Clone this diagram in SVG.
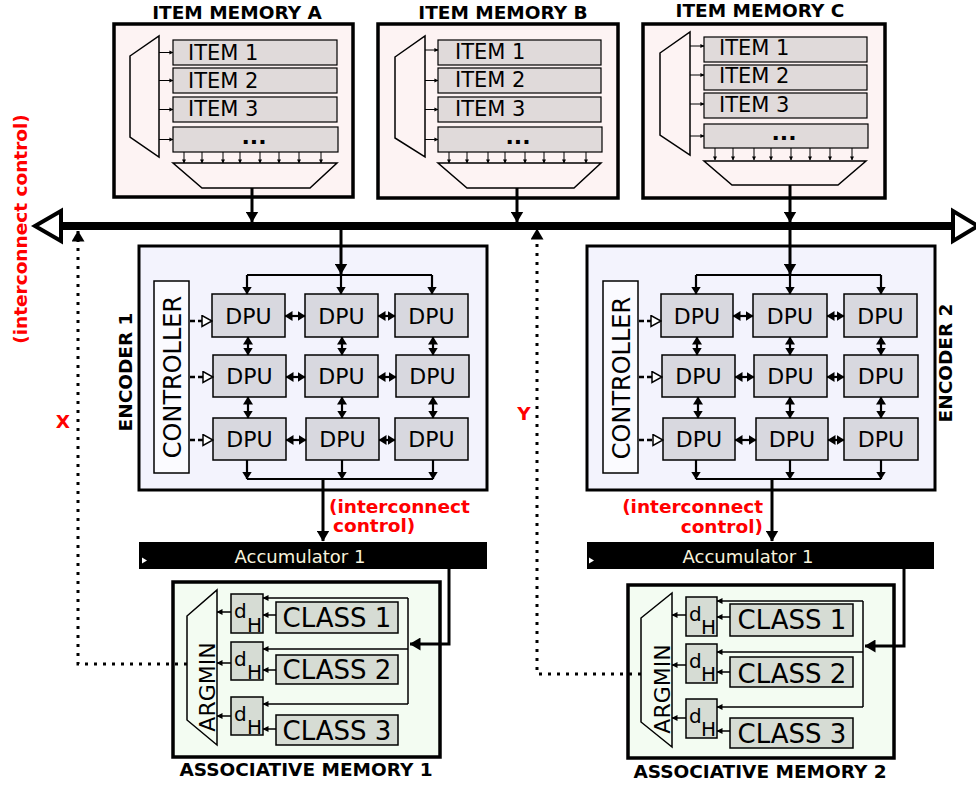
<svg xmlns="http://www.w3.org/2000/svg" width="976" height="786" viewBox="0 0 976 786">
  <style>
    text { font-family: "DejaVu Sans", "Liberation Sans", sans-serif; fill: #000; }
    .title { font-size: 18.5px; font-weight: bold; text-anchor: middle; }
    .red { fill: #ff0000; font-weight: bold; font-size: 18.5px; }
    .imbox { fill: #fdf3f3; stroke: #000; stroke-width: 3.5; }
    .item { fill: #e0dada; stroke: #000; stroke-width: 1.2; }
    .itext { font-size: 21px; }
    .dots { font-size: 22px; font-weight: bold; text-anchor: middle; }
    .mux { fill: none; stroke: #000; stroke-width: 1.5; stroke-linejoin: miter; }
    .enc { fill: #f3f3fd; stroke: #000; stroke-width: 3; }
    .ctrl { fill: #fbfbff; stroke: #000; stroke-width: 1.5; }
    .dpu { fill: #d8d8df; stroke: #000; stroke-width: 1.5; }
    .dtext { font-size: 22px; text-anchor: middle; }
    .am { fill: #f3fcf2; stroke: #000; stroke-width: 3.5; }
    .cell { fill: #d6dcd4; stroke: #000; stroke-width: 1.5; }
    .ctext { font-size: 26px; text-anchor: middle; }
    .dh { font-size: 20px; }
    .acc { fill: #000; }
    .acctext { font-size: 18px; fill: #f8f3dc; text-anchor: middle; }
    .thin { fill: none; stroke: #000; stroke-width: 1; }
    .w15 { fill: none; stroke: #000; stroke-width: 1.5; }
    .w2 { fill: none; stroke: #000; stroke-width: 2.2; }
    .w3 { fill: none; stroke: #000; stroke-width: 3; }
    .bus { fill: none; stroke: #000; stroke-width: 8; }
    .busend { fill: #fff; stroke: #000; stroke-width: 4; stroke-linejoin: miter; }
    .dash { fill: none; stroke: #000; stroke-width: 2.5; stroke-dasharray: 5 3; }
    .dotted { fill: none; stroke: #000; stroke-width: 3; stroke-dasharray: 3 6; }
    .t { marker-end: url(#aht); }
    .s { marker-end: url(#ahs); }
    .m { marker-end: url(#ahm); }
    .mm { marker-start: url(#ahm); marker-end: url(#ahm); }
    .o { marker-end: url(#aho); }
    .b { marker-end: url(#ah); }
  </style>
  <defs>
    <marker id="ah" viewBox="0 0 11 13" refX="10.5" refY="6.5" markerWidth="11" markerHeight="13" markerUnits="userSpaceOnUse" orient="auto-start-reverse">
      <path d="M0,0 L11,6.5 L0,13 z" fill="#000"/>
    </marker>
    <marker id="ahm" viewBox="0 0 8 10" refX="7.5" refY="5" markerWidth="8" markerHeight="10" markerUnits="userSpaceOnUse" orient="auto-start-reverse">
      <path d="M0,0 L8,5 L0,10 z" fill="#000"/>
    </marker>
    <marker id="ahs" viewBox="0 0 6 6" refX="5.5" refY="3" markerWidth="6" markerHeight="6" markerUnits="userSpaceOnUse" orient="auto-start-reverse">
      <path d="M0,0 L6,3 L0,6 z" fill="#000"/>
    </marker>
    <marker id="aht" viewBox="0 0 5 5" refX="4.5" refY="2.5" markerWidth="4" markerHeight="4.5" markerUnits="userSpaceOnUse" orient="auto">
      <path d="M0,0 L5,2.5 L0,5 z" fill="#000"/>
    </marker>
    <marker id="aho" viewBox="-1 -1 12 13" refX="10" refY="5.5" markerWidth="12" markerHeight="13" markerUnits="userSpaceOnUse" orient="auto">
      <path d="M0,0 L10,5.5 L0,11 z" fill="#fff" stroke="#000" stroke-width="1.5"/>
    </marker>
  </defs>

  <!-- ITEM MEMORY A -->
  <g id="item-memory-a">
    <text class="title" x="237" y="19">ITEM MEMORY A</text>
    <rect class="imbox" x="114" y="24" width="239" height="173"/>
    <polygon class="mux" points="130,56 159,36 159,157 130,137"/>
    <rect class="item" x="173" y="40" width="164" height="25"/>
    <rect class="item" x="173" y="68" width="164" height="25"/>
    <rect class="item" x="173" y="97" width="164" height="25"/>
    <rect class="item" x="173" y="127" width="165" height="25"/>
    <text class="itext" x="188" y="60">ITEM 1</text>
    <text class="itext" x="188" y="88">ITEM 2</text>
    <text class="itext" x="188" y="116">ITEM 3</text>
    <text class="dots" x="254" y="144">...</text>
    <g class="thin">
      <path class="t" d="M159,52.5 H173"/><path class="t" d="M159,80.5 H173"/>
      <path class="t" d="M159,109.5 H173"/><path class="t" d="M159,139.5 H173"/>
      <path class="t" d="M184,152 V163"/><path class="t" d="M202,152 V163"/>
      <path class="t" d="M223,152 V163"/><path class="t" d="M240,152 V163"/>
      <path class="t" d="M260,152 V163"/><path class="t" d="M279,152 V163"/>
      <path class="t" d="M299,152 V163"/><path class="t" d="M321,152 V163"/>
    </g>
    <polygon class="mux" points="173,163 337,163 310,188 202,188"/>
  </g>

  <!-- ITEM MEMORY B -->
  <g id="item-memory-b">
    <text class="title" x="503" y="19">ITEM MEMORY B</text>
    <rect class="imbox" x="378" y="24" width="240" height="174"/>
    <g transform="translate(265,0)">
      <polygon class="mux" points="130,57 160,36 160,157 130,138"/>
      <rect class="item" x="173" y="40" width="163" height="25"/>
      <rect class="item" x="173" y="68" width="163" height="25"/>
      <rect class="item" x="173" y="97" width="163" height="25"/>
      <rect class="item" x="173" y="127" width="164" height="25"/>
      <text class="itext" x="190" y="59">ITEM 1</text>
      <text class="itext" x="190" y="87">ITEM 2</text>
      <text class="itext" x="190" y="116">ITEM 3</text>
      <text class="dots" x="253" y="144">...</text>
      <g class="thin">
        <path class="t" d="M160,50 H173"/><path class="t" d="M160,80.5 H173"/>
        <path class="t" d="M160,109.5 H173"/><path class="t" d="M160,139.5 H173"/>
        <path class="t" d="M184,152 V163"/><path class="t" d="M202,152 V163"/>
        <path class="t" d="M223,152 V163"/><path class="t" d="M240,152 V163"/>
        <path class="t" d="M260,152 V163"/><path class="t" d="M279,152 V163"/>
        <path class="t" d="M299,152 V163"/><path class="t" d="M321,152 V163"/>
      </g>
      <polygon class="mux" points="173,163 336,163 309,188 202,188"/>
    </g>
  </g>

  <!-- ITEM MEMORY C -->
  <g id="item-memory-c">
    <text class="title" x="760" y="17">ITEM MEMORY C</text>
    <rect class="imbox" x="643" y="24" width="242" height="174"/>
    <g transform="translate(531,-3)">
      <polygon class="mux" points="129,56 159,35 159,158 129,138"/>
      <rect class="item" x="173" y="40" width="163" height="25"/>
      <rect class="item" x="173" y="68" width="163" height="25"/>
      <rect class="item" x="173" y="96" width="163" height="25"/>
      <rect class="item" x="173" y="127" width="164" height="24"/>
      <text class="itext" x="188" y="58">ITEM 1</text>
      <text class="itext" x="188" y="86">ITEM 2</text>
      <text class="itext" x="188" y="115">ITEM 3</text>
      <text class="dots" x="253" y="143">...</text>
      <g class="thin">
        <path class="t" d="M159,49 H173"/><path class="t" d="M159,78 H173"/>
        <path class="t" d="M159,107 H173"/><path class="t" d="M159,139 H173"/>
        <path class="t" d="M184,151 V163"/><path class="t" d="M202,151 V163"/>
        <path class="t" d="M223,151 V163"/><path class="t" d="M240,151 V163"/>
        <path class="t" d="M260,151 V163"/><path class="t" d="M279,151 V163"/>
        <path class="t" d="M299,151 V163"/><path class="t" d="M321,151 V163"/>
      </g>
      <polygon class="mux" points="173,164 335,164 307,188 201,188"/>
    </g>
  </g>

  <!-- ENCODER 1 -->
  <g id="encoder-1">
    <rect class="enc" x="139" y="246" width="348" height="244"/>
    <rect class="ctrl" x="154" y="281" width="35" height="192"/>
    <text transform="translate(181,377) rotate(-90)" style="font-size:24px;text-anchor:middle">CONTROLLER</text>
    <rect class="dpu" x="212" y="294" width="73" height="43"/>
    <rect class="dpu" x="305" y="294" width="73" height="43"/>
    <rect class="dpu" x="395" y="294" width="73" height="43"/>
    <rect class="dpu" x="213" y="355" width="73" height="42"/>
    <rect class="dpu" x="305" y="355" width="73" height="42"/>
    <rect class="dpu" x="396" y="355" width="73" height="42"/>
    <rect class="dpu" x="213" y="418" width="73" height="42"/>
    <rect class="dpu" x="306" y="418" width="73" height="42"/>
    <rect class="dpu" x="395" y="418" width="73" height="42"/>
    <text class="dtext" x="248.5" y="323.5">DPU</text>
    <text class="dtext" x="341.5" y="323.5">DPU</text>
    <text class="dtext" x="431.5" y="323.5">DPU</text>
    <text class="dtext" x="249.5" y="384">DPU</text>
    <text class="dtext" x="341.5" y="384">DPU</text>
    <text class="dtext" x="432.5" y="384">DPU</text>
    <text class="dtext" x="249.5" y="447">DPU</text>
    <text class="dtext" x="342.5" y="447">DPU</text>
    <text class="dtext" x="431.5" y="447">DPU</text>
    <text class="title" transform="translate(132,372) rotate(-90)">ENCODER 1</text>
  </g>

  <!-- ENCODER 2 -->
  <g id="encoder-2">
    <rect class="enc" x="587" y="246" width="348" height="244"/>
    <g transform="translate(449,0)">
      <rect class="ctrl" x="154" y="281" width="35" height="192"/>
      <text transform="translate(181,378) rotate(-90)" style="font-size:24px;text-anchor:middle">CONTROLLER</text>
      <rect class="dpu" x="212" y="294" width="72" height="43"/>
      <rect class="dpu" x="304" y="294" width="74" height="43"/>
      <rect class="dpu" x="395" y="294" width="73" height="43"/>
      <rect class="dpu" x="213" y="355" width="73" height="42"/>
      <rect class="dpu" x="305" y="355" width="73" height="42"/>
      <rect class="dpu" x="395" y="355" width="74" height="42"/>
      <rect class="dpu" x="214" y="418" width="72" height="42"/>
      <rect class="dpu" x="307" y="418" width="72" height="42"/>
      <rect class="dpu" x="395" y="418" width="74" height="42"/>
      <text class="dtext" x="248" y="323.5">DPU</text>
      <text class="dtext" x="341" y="323.5">DPU</text>
      <text class="dtext" x="431.5" y="323.5">DPU</text>
      <text class="dtext" x="249.5" y="384">DPU</text>
      <text class="dtext" x="341.5" y="384">DPU</text>
      <text class="dtext" x="432" y="384">DPU</text>
      <text class="dtext" x="250" y="447">DPU</text>
      <text class="dtext" x="343" y="447">DPU</text>
      <text class="dtext" x="432" y="447">DPU</text>
    </g>
    <text class="title" transform="translate(952,363) rotate(-90)">ENCODER 2</text>
  </g>

  <!-- Accumulators -->
  <g id="accumulator-1">
    <rect class="acc" x="139" y="542" width="348" height="27"/>
    <polygon points="142,557.5 147,560.5 142,563.5" fill="#fff"/>
    <text class="acctext" x="300" y="563">Accumulator 1</text>
  </g>
  <g id="accumulator-2">
    <rect class="acc" x="587" y="542" width="347" height="27"/>
    <polygon points="589,557.5 594,560.5 589,563.5" fill="#fff"/>
    <text class="acctext" x="748" y="563">Accumulator 1</text>
  </g>

  <!-- ASSOCIATIVE MEMORY 1 -->
  <g id="associative-memory-1">
    <rect class="am" x="173" y="582" width="267" height="175"/>
    <polygon class="mux" points="187,616 217,590 217,745 187,720"/>
    <text transform="translate(215,687) rotate(-90)" style="font-size:22px;text-anchor:middle">ARGMIN</text>
    <rect class="cell" x="231" y="594" width="32" height="39"/>
    <rect class="cell" x="231" y="642" width="32" height="38"/>
    <rect class="cell" x="231" y="697" width="32" height="38"/>
    <text class="dh" x="234" y="618">d</text><text class="dh" x="247" y="632">H</text>
    <text class="dh" x="234" y="666">d</text><text class="dh" x="247" y="679">H</text>
    <text class="dh" x="234" y="721">d</text><text class="dh" x="247" y="734">H</text>
    <rect class="cell" x="276" y="602" width="122" height="31"/>
    <rect class="cell" x="276" y="655" width="122" height="29"/>
    <rect class="cell" x="276" y="715" width="122" height="30"/>
    <text class="ctext" x="337" y="627">CLASS 1</text>
    <text class="ctext" x="337" y="679">CLASS 2</text>
    <text class="ctext" x="337" y="740">CLASS 3</text>
    <text class="title" x="306" y="776">ASSOCIATIVE MEMORY 1</text>
  </g>

  <!-- ASSOCIATIVE MEMORY 2 -->
  <g id="associative-memory-2">
    <rect class="am" x="628" y="585" width="266" height="173"/>
    <polygon class="mux" points="641,618 672,593 672,747 641,722"/>
    <text transform="translate(670,689) rotate(-90)" style="font-size:22px;text-anchor:middle">ARGMIN</text>
    <rect class="cell" x="686" y="597" width="31" height="39"/>
    <rect class="cell" x="686" y="644" width="31" height="39"/>
    <rect class="cell" x="686" y="699" width="31" height="39"/>
    <text class="dh" x="689" y="621">d</text><text class="dh" x="701" y="634">H</text>
    <text class="dh" x="689" y="668">d</text><text class="dh" x="701" y="681">H</text>
    <text class="dh" x="689" y="723">d</text><text class="dh" x="701" y="736">H</text>
    <rect class="cell" x="730" y="604" width="123" height="32"/>
    <rect class="cell" x="730" y="657" width="123" height="30"/>
    <rect class="cell" x="730" y="718" width="123" height="30"/>
    <text class="ctext" x="792" y="629">CLASS 1</text>
    <text class="ctext" x="792" y="683">CLASS 2</text>
    <text class="ctext" x="792" y="743">CLASS 3</text>
    <text class="title" x="760" y="778">ASSOCIATIVE MEMORY 2</text>
  </g>

  <!-- Interconnect bus -->
  <g id="bus">
    <path class="bus" d="M61,226 H953"/>
    <polygon class="busend" points="35,226 61,211 61,241"/>
    <polygon class="busend" points="953,211 953,241 978,226"/>
    <text class="red" transform="translate(27,229) rotate(-90)" text-anchor="middle">(interconnect control)</text>
  </g>

  <!-- Labels -->
  <g id="labels">
    <text class="red" x="329" y="513">(interconnect</text>
    <text class="red" x="333" y="532">control)</text>
    <text class="red" x="763" y="513" text-anchor="end">(interconnect</text>
    <text class="red" x="763" y="533" text-anchor="end">control)</text>
    <text class="red" x="63" y="428" text-anchor="middle">X</text>
    <text class="red" x="524" y="420" text-anchor="middle">Y</text>
  </g>

  <!-- Connectors -->
  <g id="connectors">
    <!-- item memories to bus -->
    <path class="w3 b" d="M252,188 V222"/>
    <path class="w3 b" d="M517,188 V222"/>
    <path class="w3 b" d="M790,185 V222"/>
    <!-- bus to encoders -->
    <path class="w3 b" d="M341,230 V274"/>
    <path class="w3 b" d="M790,230 V274"/>

    <!-- encoder 1 internals -->
    <g id="encoder-1-links">
      <path class="w2" d="M247,275 H432"/>
      <path class="w2 m" d="M247,275 V294"/><path class="w2 m" d="M341,275 V294"/><path class="w2 m" d="M432,275 V294"/>
      <path class="w2 mm" d="M285,316 H305"/><path class="w2 mm" d="M378,316 H395"/>
      <path class="w2 mm" d="M286,377 H305"/><path class="w2 mm" d="M378,377 H396"/>
      <path class="w2 mm" d="M286,440 H306"/><path class="w2 mm" d="M379,440 H395"/>
      <path class="w2 mm" d="M248,337 V355"/><path class="w2 mm" d="M342,337 V355"/><path class="w2 mm" d="M433,337 V355"/>
      <path class="w2 mm" d="M248,397 V418"/><path class="w2 mm" d="M342,397 V418"/><path class="w2 mm" d="M433,397 V418"/>
      <path class="dash o" d="M190,321 H212"/><path class="dash o" d="M190,377 H213"/><path class="dash o" d="M190,440 H213"/>
      <path class="w2 m" d="M247,460 V479"/><path class="w2 m" d="M342,460 V479"/><path class="w2 m" d="M433,460 V479"/>
      <path class="w2" d="M247,479 H433"/>
      <path class="w3 b" d="M323,479 V541"/>
    </g>

    <!-- encoder 2 internals -->
    <g id="encoder-2-links" transform="translate(449,0)">
      <path class="w2" d="M247,275 H432"/>
      <path class="w2 m" d="M247,275 V294"/><path class="w2 m" d="M341,275 V294"/><path class="w2 m" d="M432,275 V294"/>
      <path class="w2 mm" d="M284,316 H304"/><path class="w2 mm" d="M378,316 H395"/>
      <path class="w2 mm" d="M286,377 H305"/><path class="w2 mm" d="M378,377 H395"/>
      <path class="w2 mm" d="M286,440 H307"/><path class="w2 mm" d="M379,440 H395"/>
      <path class="w2 mm" d="M248,337 V355"/><path class="w2 mm" d="M341,337 V355"/><path class="w2 mm" d="M432,337 V355"/>
      <path class="w2 mm" d="M249,397 V418"/><path class="w2 mm" d="M341,397 V418"/><path class="w2 mm" d="M432,397 V418"/>
      <path class="dash o" d="M190,321 H212"/><path class="dash o" d="M190,377 H213"/><path class="dash o" d="M190,440 H214"/>
      <path class="w2 m" d="M247,460 V479"/><path class="w2 m" d="M341,460 V479"/><path class="w2 m" d="M432,460 V479"/>
      <path class="w2" d="M247,479 H432"/>
      <path class="w3 b" d="M323,479 V541"/>
    </g>

    <!-- accumulator 1 to associative memory 1 -->
    <g id="am1-links">
      <path class="w3 b" d="M449,569 V644 H410"/>
      <path class="w15" d="M408,598 V704"/>
      <path class="w15 s" d="M408,598 H263"/><path class="w15 s" d="M408,649 H263"/><path class="w15 s" d="M408,704 H263"/>
      <path class="w15 s" d="M276,615 H263"/><path class="w15 s" d="M276,670 H263"/><path class="w15 s" d="M276,729 H263"/>
      <path class="w15 s" d="M231,612 H217"/><path class="w15 s" d="M231,663 H217"/><path class="w15 s" d="M231,716 H217"/>
    </g>

    <!-- accumulator 2 to associative memory 2 -->
    <g id="am2-links">
      <path class="w3 b" d="M904,569 V646 H865"/>
      <path class="w15" d="M863,601 V707"/>
      <path class="w15 s" d="M863,601 H717"/><path class="w15 s" d="M863,652 H717"/><path class="w15 s" d="M863,707 H717"/>
      <path class="w15 s" d="M730,617 H717"/><path class="w15 s" d="M730,672 H717"/><path class="w15 s" d="M730,731 H717"/>
      <path class="w15 s" d="M686,615 H672"/><path class="w15 s" d="M686,665 H672"/><path class="w15 s" d="M686,718 H672"/>
    </g>

    <!-- argmin results back to the bus -->
    <path class="dotted b" d="M187,664 H78 V231"/>
    <path class="dotted b" d="M641,674 H537 V229"/>
  </g>
</svg>
